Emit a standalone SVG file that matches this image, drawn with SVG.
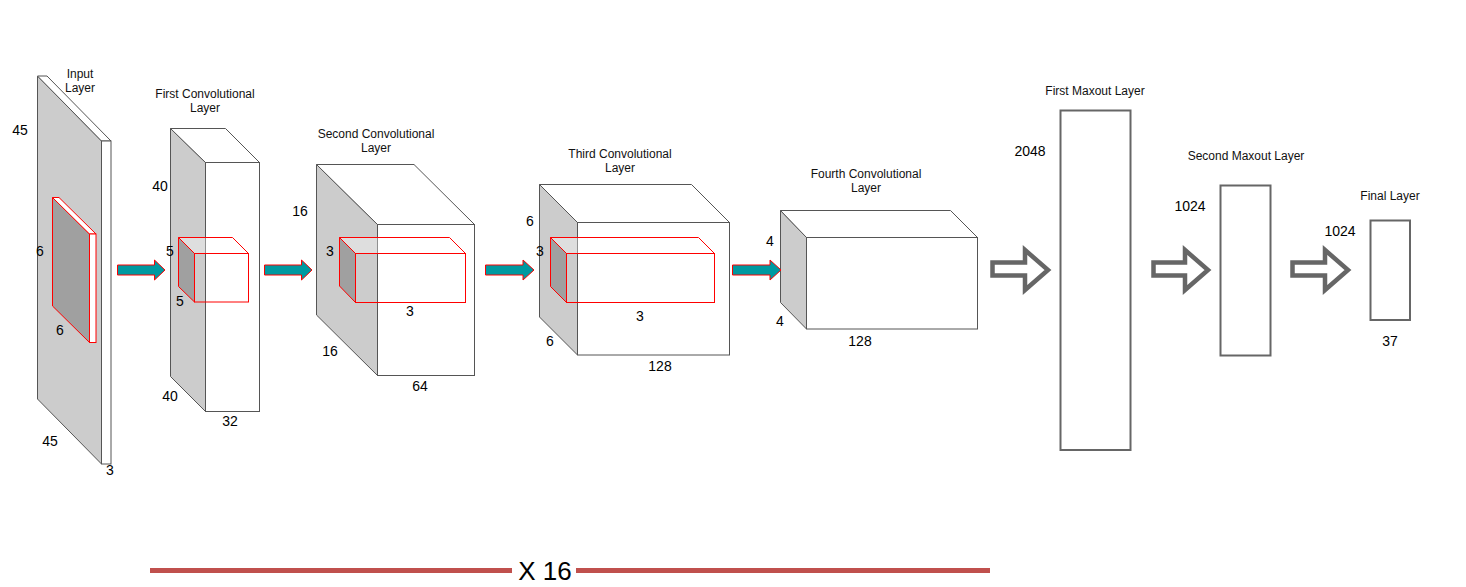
<svg xmlns="http://www.w3.org/2000/svg" width="1466" height="587" viewBox="0 0 1466 587">
<defs>
<style>
text{font-family:"Liberation Sans",Arial,sans-serif;fill:#000}
.t{font-size:12px;text-anchor:middle;fill:#111}
.n{font-size:14px;text-anchor:middle}
.side{fill:#cccccc;stroke:#555;stroke-width:1}
.face{fill:#ffffff;stroke:#555;stroke-width:1}
.kside{fill:#a0a0a0;stroke:#ff0000;stroke-width:1}
.ktop{fill:#ffffff;fill-opacity:0.35;stroke:#ff0000;stroke-width:1}
.kfront{fill:none;stroke:#ff0000;stroke-width:1}
.kfrontw{fill:#ffffff;stroke:#ff0000;stroke-width:1}
.ta{fill:#0099a0;stroke:#ff0000;stroke-width:1}
.ga{fill:#ffffff;stroke:#666666;stroke-width:4.5;stroke-linejoin:miter}
.box{fill:#ffffff;stroke:#666666;stroke-width:2}
</style>
</defs>
<rect width="1466" height="587" fill="#ffffff"/>

<g id="input-layer">
<polygon class="side" points="37.5,76 101.5,141 101.5,464 37.5,399"/>
<polygon class="face" points="37.5,76 47,76 111,141 101.5,141"/>
<rect class="face" x="101.5" y="141" width="9.5" height="323"/>
<polygon class="kside" points="52.5,197.5 89.5,234 89.5,342.5 52.5,306"/>
<polygon class="kfrontw" points="52.5,197.5 59,197.5 96,234 89.5,234"/>
<rect class="kfrontw" x="89.5" y="234" width="6.5" height="108.5"/>
<text class="t" x="80" y="78">Input</text>
<text class="t" x="80" y="92">Layer</text>
<text class="n" x="20" y="135">45</text>
<text class="n" x="40" y="256">6</text>
<text class="n" x="60" y="335">6</text>
<text class="n" x="50" y="446">45</text>
<text class="n" x="110" y="475">3</text>
</g>

<g id="conv1">
<polygon class="side" points="170.5,128.5 205.5,162.5 205.5,411.5 170.5,376.5"/>
<polygon class="face" points="170.5,128.5 225.5,128.5 259.5,162.5 205.5,162.5"/>
<rect class="face" x="205.5" y="162.5" width="54" height="249"/>
<polygon class="kside" points="178.5,237.5 194.5,253.5 194.5,302 178.5,286.5"/>
<polygon class="ktop" points="178.5,237.5 232.5,237.5 248.5,253.5 194.5,253.5"/>
<rect class="kfront" x="194.5" y="253.5" width="54" height="48.5"/>
<text class="t" x="205" y="98">First Convolutional</text>
<text class="t" x="205" y="112">Layer</text>
<text class="n" x="160" y="191">40</text>
<text class="n" x="170" y="256">5</text>
<text class="n" x="180" y="306">5</text>
<text class="n" x="170" y="401">40</text>
<text class="n" x="230" y="426">32</text>
</g>

<g id="conv2">
<polygon class="side" points="316.5,164.5 377.5,224.5 377.5,375.5 316.5,315"/>
<polygon class="face" points="316.5,164.5 414,164.5 474.5,224.5 377.5,224.5"/>
<rect class="face" x="377.5" y="224.5" width="97" height="151"/>
<polygon class="kside" points="339.5,237.5 355.5,253.5 355.5,302.5 339.5,286"/>
<polygon class="ktop" points="339.5,237.5 449.5,237.5 465.5,253.5 355.5,253.5"/>
<rect class="kfront" x="355.5" y="253.5" width="110" height="49"/>
<text class="t" x="376" y="138">Second Convolutional</text>
<text class="t" x="376" y="152">Layer</text>
<text class="n" x="300" y="216">16</text>
<text class="n" x="330" y="256">3</text>
<text class="n" x="410" y="316">3</text>
<text class="n" x="330" y="356">16</text>
<text class="n" x="420" y="391">64</text>
</g>

<g id="conv3">
<polygon class="side" points="539.5,184.5 577.5,222.5 577.5,355 539.5,317"/>
<polygon class="face" points="539.5,184.5 691.5,184.5 729.5,222.5 577.5,222.5"/>
<rect class="face" x="577.5" y="222.5" width="152" height="132.5"/>
<polygon class="kside" points="550.5,237.5 566.5,253.5 566.5,302.5 550.5,286.5"/>
<polygon class="ktop" points="550.5,237.5 698.5,237.5 714.5,253.5 566.5,253.5"/>
<rect class="kfront" x="566.5" y="253.5" width="148" height="49"/>
<text class="t" x="620" y="158">Third Convolutional</text>
<text class="t" x="620" y="172">Layer</text>
<text class="n" x="530" y="226">6</text>
<text class="n" x="540" y="256">3</text>
<text class="n" x="640" y="321">3</text>
<text class="n" x="550" y="346">6</text>
<text class="n" x="660" y="371">128</text>
</g>

<g id="conv4">
<polygon class="side" points="780.5,210.5 806.5,237.5 806.5,329 780.5,302.5"/>
<polygon class="face" points="780.5,210.5 950.5,210.5 977.5,237.5 806.5,237.5"/>
<rect class="face" x="806.5" y="237.5" width="171" height="91.5"/>
<text class="t" x="866" y="178">Fourth Convolutional</text>
<text class="t" x="866" y="192">Layer</text>
<text class="n" x="770" y="246">4</text>
<text class="n" x="780" y="326">4</text>
<text class="n" x="860" y="346">128</text>
</g>

<g id="maxout1">
<rect class="box" x="1060.5" y="110.5" width="70" height="339.5"/>
<text class="t" x="1095" y="95">First Maxout Layer</text>
<text class="n" x="1030" y="156">2048</text>
</g>

<g id="maxout2">
<rect class="box" x="1220.5" y="185.5" width="50" height="170"/>
<text class="t" x="1246" y="160">Second Maxout Layer</text>
<text class="n" x="1190" y="211">1024</text>
</g>

<g id="final-layer">
<rect class="box" x="1370.5" y="220.5" width="39.5" height="99.5"/>
<text class="t" x="1390" y="200">Final Layer</text>
<text class="n" x="1340" y="236">1024</text>
<text class="n" x="1390" y="346">37</text>
</g>

<g id="connectors">
<polygon class="ta" points="117.5,265 154.5,265 154.5,260 165,270 154.5,280 154.5,275 117.5,275"/>
<polygon class="ta" points="264.5,265 301.5,265 301.5,260 312,270 301.5,280 301.5,275 264.5,275"/>
<polygon class="ta" points="485.5,265 523,265 523,260 534,270 523,280 523,275 485.5,275"/>
<polygon class="ta" points="732.5,265 770,265 770,260 781,270 770,280 770,275 732.5,275"/>
<polygon class="ga" points="992.5,262.5 1025,262.5 1025,250 1048,270 1025,290 1025,275.5 992.5,275.5"/>
<polygon class="ga" points="1153.5,262.5 1185,262.5 1185,250 1208,270 1185,290 1185,275.5 1153.5,275.5"/>
<polygon class="ga" points="1292.5,262.5 1325,262.5 1325,250 1348,270 1325,290 1325,275.5 1292.5,275.5"/>
</g>

<g id="repeat-bar">
<line x1="150" y1="570.5" x2="512" y2="570.5" stroke="#c0504d" stroke-width="5"/>
<line x1="576" y1="570.5" x2="990" y2="570.5" stroke="#c0504d" stroke-width="5"/>
<text x="545" y="580" font-size="26" text-anchor="middle">X 16</text>
</g>
</svg>
